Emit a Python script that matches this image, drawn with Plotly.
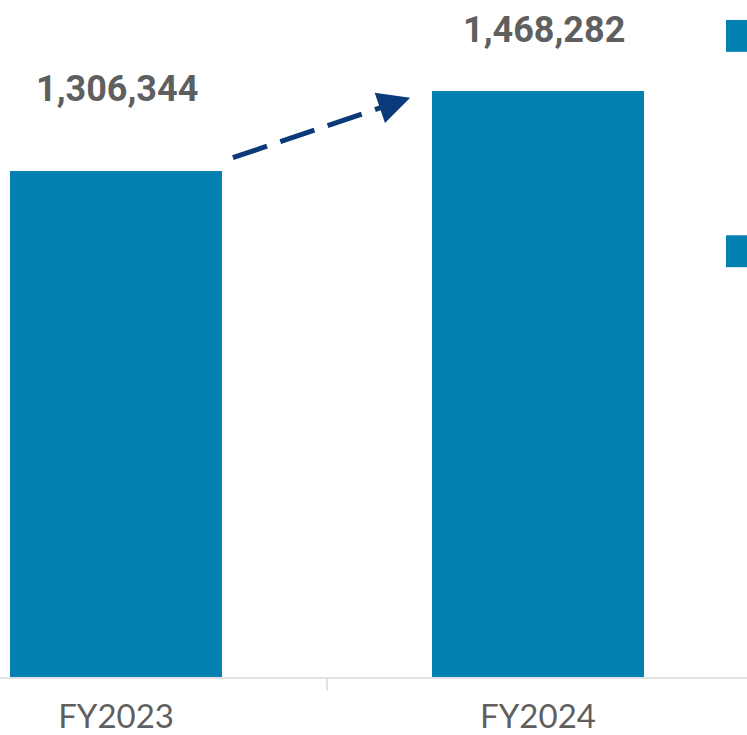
import plotly.graph_objects as go

# Fiscal-year totals
years = ["FY2023", "FY2024"]
totals = [1306344, 1468282]
total_labels = ["1,306,344", "1,468,282"]

bar_color = "#0380B2"
arrow_color = "#0B3A7A"
label_color = "#5F5F5F"
axis_color = "#E3E3E3"

W, H = 747, 735
top_m, bot_m = 0, 56
plot_h = H - top_m - bot_m
x_range = [-0.275, 1.4953]
y_range = [278050, 1652480]

fig = go.Figure()
fig.add_trace(go.Bar(
    x=years, y=totals, width=0.502,
    marker=dict(color=bar_color, line=dict(width=0)),
    hoverinfo="skip", showlegend=False,
))

# Value labels above the bars
label_offsets = [(1, 82), (6, 61)]
for i, (txt, (dx, dy)) in enumerate(zip(total_labels, label_offsets)):
    fig.add_annotation(
        x=i, y=totals[i], text=f"<b>{txt}</b>", showarrow=False,
        xanchor="center", yanchor="middle", xshift=dx, yshift=dy,
        font=dict(family="Roboto", size=36, color=label_color),
    )

# Dashed growth arrow between the two bars (drawn on a numeric overlay axis)
x0, x1 = 0.277, 0.697
y0, y1 = totals[0] + 26000, totals[1] - 14000
slope = (y1 - y0) / (x1 - x0)
fig.add_trace(go.Scatter(
    x=[x0, x1 - 0.035], y=[y0, y1 - slope * 0.035],
    xaxis="x2", yaxis="y",
    mode="lines", line=dict(color=arrow_color, width=5, dash="36px,14px"),
    hoverinfo="skip", showlegend=False,
))
fig.add_annotation(
    x=x1, y=y1, ax=x1 - 0.05, ay=y1 - slope * 0.05,
    xref="x2", yref="y", axref="x2", ayref="y", text="",
    showarrow=True, arrowhead=2, arrowsize=1.6, arrowwidth=4,
    arrowcolor=arrow_color, standoff=0, startstandoff=0,
)

# Legend swatches at the right edge
for top_px, bot_px in [(20, 52), (236, 268)]:
    fig.add_shape(
        type="rect", xref="paper", yref="paper",
        x0=726 / W, x1=1.0,
        y0=(plot_h - bot_px) / plot_h, y1=(plot_h - top_px) / plot_h,
        fillcolor=bar_color, line=dict(width=0),
    )

fig.update_layout(
    width=W, height=H,
    margin=dict(l=0, r=0, t=top_m, b=bot_m),
    plot_bgcolor="white", paper_bgcolor="white",
    bargap=0,
    xaxis=dict(
        type="category", range=x_range,
        tickson="boundaries", ticks="outside", ticklen=12, tickcolor=axis_color,
        tickwidth=2, showline=True, linecolor=axis_color, linewidth=2,
        showgrid=False, zeroline=False, ticklabelstandoff=9,
        tickfont=dict(family="Lato", size=33, color=label_color),
    ),
    xaxis2=dict(
        type="linear", range=x_range, overlaying="x", visible=False,
        showgrid=False, zeroline=False,
    ),
    yaxis=dict(range=y_range, visible=False, showgrid=False, zeroline=False),
)

fig.write_html("out.html")
